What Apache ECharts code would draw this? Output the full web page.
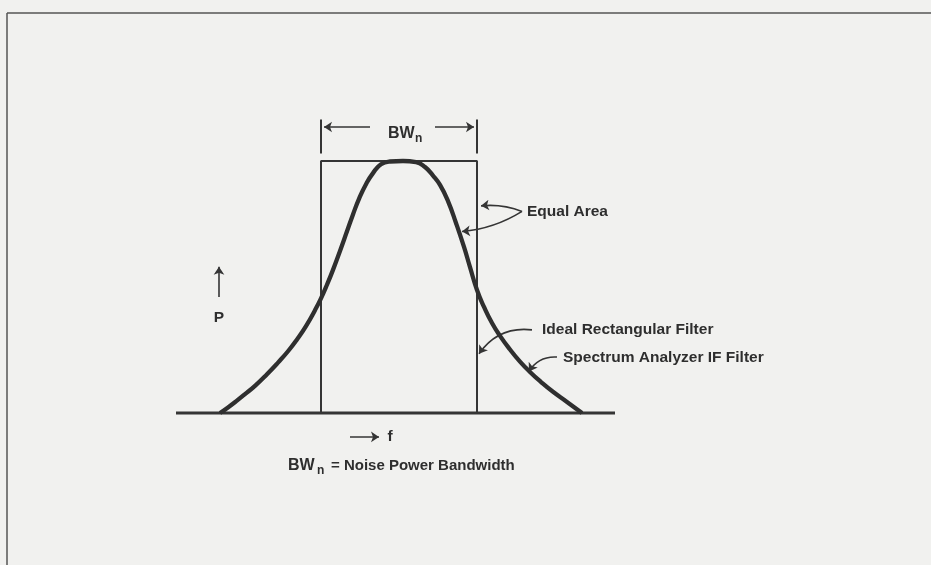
<!DOCTYPE html>
<html>
<head>
<meta charset="utf-8">
<script src="https://cdn.jsdelivr.net/npm/echarts@6/dist/echarts.min.js"></script>
<style>
  html, body { margin: 0; padding: 0; background: #f1f1ef; }
  #chart { width: 931px; height: 565px; }
</style>
</head>
<body>
<div id="chart"></div>
<script>
// frequency (arbitrary units) and relative power
const curveF = [4.4, 5.2, 6.0, 6.9, 7.9, 9.1, 10.2, 11.2, 12.1, 13.0, 13.9, 14.5, 15.1, 15.7,
                16.4, 17.1, 17.7, 18.3, 19.0, 19.7, 20.5, 21.4, 22.7,
                24.0, 24.9, 25.7, 26.4, 27.2, 28.0, 28.8, 29.4, 30.1, 30.8, 31.6, 32.4, 33.4,
                34.4, 35.4, 36.5, 37.7, 39.1, 40.6];
const curveP = [0, 0.022, 0.046, 0.075, 0.108, 0.154, 0.200, 0.245, 0.292, 0.345, 0.408, 0.455,
                0.509, 0.568, 0.643, 0.721, 0.788, 0.850, 0.908, 0.952, 0.987, 0.998, 1,
                0.996, 0.976, 0.942, 0.905, 0.841, 0.754, 0.659, 0.579, 0.488, 0.421, 0.357,
                0.306, 0.252, 0.204, 0.163, 0.123, 0.084, 0.044, 0];
// ideal rectangular filter: edges and height
const rectF = [14.5, 30.1];
const rectP = 1;
// baseline extent
const baseF = [0, 43.9];

const labels = {
  equal: 'Equal Area',
  ideal: 'Ideal Rectangular Filter',
  spec: 'Spectrum Analyzer IF Filter',
  bw: 'BW', sub: 'n',
  note: '= Noise Power Bandwidth',
  p: 'P', f: 'f'
};

const ink = '#353535';
const font = { fontFamily: 'Liberation Sans', fontWeight: 'bold', fontSize: 15.5, fill: '#2e2e2e' };

const curveData = curveF.map((f, i) => [f, curveP[i]]);
const rectData = [[rectF[0], 0], [rectF[0], rectP], [rectF[1], rectP], [rectF[1], 0]];

function seg(a, b, curveness) {
  return { coords: [a, b], lineStyle: { curveness: curveness || 0 } };
}

const option = {
  backgroundColor: '#f1f1ef',
  animation: false,
  grid: { left: 176, right: 315, top: 35, bottom: 26 },
  xAxis: { type: 'value', min: 0, max: 44, show: false },
  yAxis: { type: 'value', min: -0.5, max: 1.5, show: false },
  series: [
    {
      name: 'baseline', type: 'line', symbol: 'none',
      data: [[baseF[0], 0], [baseF[1], 0]],
      lineStyle: { color: ink, width: 3 }
    },
    {
      name: 'Ideal Rectangular Filter', type: 'line', symbol: 'none',
      data: rectData,
      lineStyle: { color: ink, width: 2 }
    },
    {
      name: 'Spectrum Analyzer IF Filter', type: 'line', symbol: 'none',
      smooth: 0.5,
      data: curveData,
      lineStyle: { color: '#2f2f2f', width: 4.3 }
    },
    {
      // dimension extension ticks
      type: 'lines', coordinateSystem: 'cartesian2d', symbol: 'none',
      lineStyle: { color: ink, width: 2, opacity: 1 },
      data: [
        seg([rectF[0], 1.03], [rectF[0], 1.165]),
        seg([rectF[1], 1.03], [rectF[1], 1.165])
      ]
    },
    {
      // arrows and leaders
      type: 'lines', coordinateSystem: 'cartesian2d',
      symbol: ['none', 'arrow'], symbolSize: 8,
      lineStyle: { color: ink, width: 1.6, opacity: 1 },
      data: [
        seg([19.4, 1.135], [rectF[0] + 0.3, 1.135]),
        seg([25.9, 1.135], [rectF[1] - 0.3, 1.135]),
        seg([4.3, 0.46], [4.3, 0.58]),
        seg([17.4, -0.095], [20.3, -0.095]),
        seg([34.6, 0.8], [30.5, 0.822], -0.12),
        seg([34.6, 0.8], [28.6, 0.72], 0.12),
        seg([35.6, 0.33], [30.3, 0.235], -0.3),
        seg([38.1, 0.222], [35.3, 0.165], -0.3)
      ]
    }
  ]
};

const chart = echarts.init(document.getElementById('chart'));
chart.setOption(option);

const px = (f, p) => chart.convertToPixel({ gridIndex: 0 }, [f, p]);
function txt(f, p, text, align, extra) {
  const [x, y] = px(f, p);
  return {
    type: 'text', x: x, y: y,
    style: Object.assign({}, font, { text: text, textAlign: align || 'left', textVerticalAlign: 'middle' }, extra || {})
  };
}

chart.setOption({
  graphic: [
    { type: 'line', shape: { x1: 7, y1: 13, x2: 931, y2: 13 }, style: { stroke: '#555', lineWidth: 1.5 } },
    { type: 'line', shape: { x1: 7, y1: 13, x2: 7, y2: 565 }, style: { stroke: '#555', lineWidth: 1.5 } },
    txt(21.2, 1.11, labels.bw, 'left', { fontSize: 16 }),
    txt(23.9, 1.09, labels.sub, 'left', { fontSize: 12 }),
    txt(35.1, 0.8, labels.equal),
    txt(36.6, 0.33, labels.ideal),
    txt(38.7, 0.22, labels.spec),
    txt(4.3, 0.38, labels.p, 'center'),
    txt(21.4, -0.095, labels.f, 'center'),
    txt(11.2, -0.21, labels.bw, 'left', { fontSize: 16 }),
    txt(14.1, -0.23, labels.sub, 'left', { fontSize: 12 }),
    txt(15.5, -0.21, labels.note, 'left', { fontSize: 15 })
  ]
});
</script>
</body>
</html>
